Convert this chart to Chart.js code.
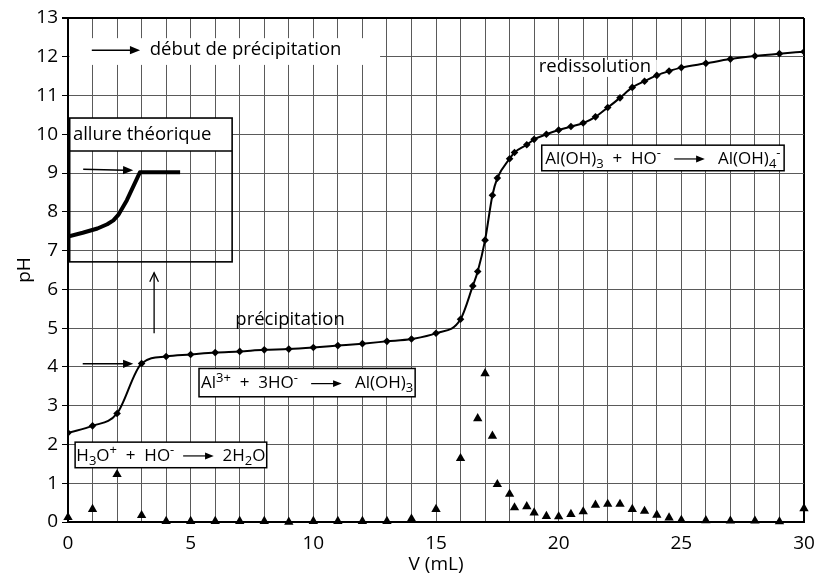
<!DOCTYPE html>
<html>
<head>
<meta charset="utf-8">
<script src="https://cdn.jsdelivr.net/npm/chart.js@4.4.1/dist/chart.umd.min.js"></script>
<style>
  body { margin: 0; background: #fff; }
  canvas { display: block; }
</style>
</head>
<body>
<canvas id="titration" width="818" height="574"></canvas>
<script>
// volume added (mL) and measured pH
const volumePH = [0, 1, 2, 3, 4, 5, 6, 7, 8, 9, 10, 11, 12, 13, 14, 15, 16, 16.5, 16.7, 17, 17.3, 17.5, 18, 18.2, 18.7, 19,
  19.5, 20, 20.5, 21, 21.5, 22, 22.5, 23, 23.5, 24, 24.5, 25, 26, 27, 28, 29, 30];
const pH = [2.30, 2.48, 2.80, 4.09, 4.27, 4.32, 4.37, 4.40, 4.44, 4.46, 4.50, 4.55, 4.60, 4.66, 4.72, 4.87, 5.23, 6.09, 6.46, 7.27, 8.43, 8.87, 9.37, 9.53, 9.73, 9.87,
  10.00, 10.11, 10.20, 10.29, 10.45, 10.69, 10.94, 11.21, 11.37, 11.52, 11.63, 11.72, 11.83, 11.94, 12.02, 12.08, 12.13];

// derivative dpH/dV (triangles)
const volumeDer = [0, 1, 2, 3, 4, 5, 6, 7, 8, 9, 10, 11, 12, 13, 14, 15, 16, 16.7, 17, 17.3, 17.5, 18, 18.2, 18.7, 19,
  19.5, 20, 20.5, 21, 21.5, 22, 22.5, 23, 23.5, 24, 24.5, 25, 26, 27, 28, 29, 30];
const dpH = [0.12, 0.33, 1.23, 0.17, 0.02, 0.02, 0.02, 0.02, 0.02, 0.0, 0.02, 0.02, 0.02, 0.02, 0.08, 0.33, 1.64, 2.67, 3.83, 2.22, 0.97, 0.72, 0.37, 0.40, 0.24,
  0.15, 0.14, 0.20, 0.27, 0.44, 0.46, 0.46, 0.33, 0.28, 0.18, 0.11, 0.05, 0.04, 0.03, 0.03, 0.01, 0.35];

// sketch of the theoretical shape (inset)
const insetV = [0, 0.6, 1.2, 1.6, 1.85, 2.05, 2.4, 2.93, 4.57];
const insetPH = [7.36, 7.46, 7.57, 7.68, 7.78, 7.92, 8.3, 9.02, 9.02];

const xTicks = [0, 5, 10, 15, 20, 25, 30];

const FONT = '"Open Sans", "DejaVu Sans", sans-serif';

function arrow(ctx, x0, y0, x1, y1, head, open) {
  const a = Math.atan2(y1 - y0, x1 - x0);
  ctx.beginPath();
  ctx.moveTo(x0, y0);
  if (open) ctx.lineTo(x1, y1);
  else ctx.lineTo(x1 - head * 0.8 * Math.cos(a), y1 - head * 0.8 * Math.sin(a));
  ctx.stroke();
  ctx.beginPath();
  const w = open ? 0.45 : 0.38;
  if (open) {
    ctx.moveTo(x1 - head * Math.cos(a - w), y1 - head * Math.sin(a - w));
    ctx.lineTo(x1, y1);
    ctx.lineTo(x1 - head * Math.cos(a + w), y1 - head * Math.sin(a + w));
    ctx.stroke();
  } else {
    ctx.moveTo(x1, y1);
    ctx.lineTo(x1 - head * Math.cos(a - w), y1 - head * Math.sin(a - w));
    ctx.lineTo(x1 - head * Math.cos(a + w), y1 - head * Math.sin(a + w));
    ctx.closePath();
    ctx.fill();
  }
}

// draws text with _{sub}, ^{sup} and -> (arrow); returns its width
function richText(ctx, text, x, y, size, draw) {
  const parts = text.split(/(_\{[^}]*\}|\^\{[^}]*\}|->)/).filter(p => p);
  let cx = x;
  ctx.textBaseline = 'middle';
  ctx.textAlign = 'left';
  for (const p of parts) {
    if (p === '->') {
      const w = size * 1.8;
      if (draw) {
        ctx.lineWidth = 1.2;
        arrow(ctx, cx, y, cx + w, y, size * 0.55, false);
      }
      cx += w;
    } else if (p[0] === '_' || p[0] === '^') {
      const t = p.slice(2, -1);
      ctx.font = `${Math.round(size * 0.75)}px ${FONT}`;
      if (draw) ctx.fillText(t, cx, y + (p[0] === '_' ? size * 0.3 : -size * 0.32));
      cx += ctx.measureText(t).width;
    } else {
      ctx.font = `${size}px ${FONT}`;
      if (draw) ctx.fillText(p, cx, y);
      cx += ctx.measureText(p).width;
    }
  }
  return cx - x;
}

function formulaBox(ctx, X, Y, x0, y0, x1, y1, text) {
  const l = X(x0), t = Y(y0), r = X(x1), b = Y(y1);
  ctx.fillStyle = '#fff';
  ctx.fillRect(l, t, r - l, b - t);
  ctx.strokeStyle = '#000';
  ctx.lineWidth = 1.5;
  ctx.strokeRect(l, t, r - l, b - t);
  ctx.fillStyle = '#000';
  const w = richText(ctx, text, 0, 0, 17, false);
  richText(ctx, text, (l + r) / 2 - w / 2, (t + b) / 2 + 1, 17, true);
}

const notesPlugin = {
  id: 'notes',
  beforeDatasetsDraw(chart) {
    const ctx = chart.ctx;
    const X = v => chart.scales.x.getPixelForValue(v);
    const Y = v => chart.scales.y.getPixelForValue(v);
    ctx.save();

    // white patches behind the free labels
    ctx.fillStyle = '#fff';
    ctx.fillRect(X(0) + 1.5, Y(12.48), X(12.72) - X(0) - 1.5, Y(11.79) - Y(12.48));
    ctx.fillRect(X(19.16), Y(11.92), X(24.0) - X(19.16), Y(11.48) - Y(11.92));

    ctx.fillStyle = '#000';
    ctx.strokeStyle = '#000';
    ctx.lineWidth = 1.5;
    arrow(ctx, X(0.97), Y(12.17), X(2.94), Y(12.17), 11, false);
    ctx.font = `18.5px ${FONT}`;
    ctx.textBaseline = 'middle';
    ctx.textAlign = 'left';
    ctx.fillText('début de précipitation', X(3.33), Y(12.17));

    ctx.textAlign = 'center';
    ctx.fillText('redissolution', X(21.48), Y(11.74));
    ctx.fillText('précipitation', X(9.05), Y(5.21));

    // inset "allure théorique"
    const il = X(0), ir = X(6.69), it = Y(10.42), ib = Y(6.71), is = Y(9.57);
    ctx.fillStyle = '#fff';
    ctx.fillRect(il, it, ir - il, is - it);
    ctx.strokeStyle = '#000';
    ctx.lineWidth = 1.6;
    ctx.strokeRect(il, it, ir - il, ib - it);
    ctx.beginPath();
    ctx.moveTo(il, is);
    ctx.lineTo(ir, is);
    ctx.stroke();
    ctx.lineWidth = 3;
    ctx.beginPath();
    ctx.moveTo(il + 1, it);
    ctx.lineTo(il + 1, ib);
    ctx.stroke();
    ctx.fillStyle = '#000';
    ctx.font = `18.5px ${FONT}`;
    ctx.textAlign = 'left';
    ctx.fillText('allure théorique', X(0.2), Y(9.98));
    ctx.lineWidth = 1.5;
    arrow(ctx, X(0.62), Y(9.1), X(2.66), Y(9.07), 11, false);

    // arrows near the first jump
    arrow(ctx, X(0.6), Y(4.08), X(2.66), Y(4.08), 11, false);
    ctx.lineWidth = 1.3;
    arrow(ctx, X(3.51), Y(4.87), X(3.51), Y(6.43), 10, true);

    // reaction boxes
    formulaBox(ctx, X, Y, 0.29, 2.06, 8.1, 1.40, 'H_{3}O^{+}  +  HO^{-}  ->  2H_{2}O');
    formulaBox(ctx, X, Y, 5.34, 3.96, 14.15, 3.23, 'Al^{3+}  +  3HO^{-}   ->   Al(OH)_{3}');
    formulaBox(ctx, X, Y, 19.31, 9.72, 29.19, 9.06, 'Al(OH)_{3}  +  HO^{-}   ->   Al(OH)_{4}^{-}');

    ctx.restore();
  }
};

const gridColor = (edge) => ctx => ctx.tick && ctx.tick.value === edge ? '#000' : '#5a5a5a';
const gridWidth = (edge) => ctx => ctx.tick && ctx.tick.value === edge ? 2 : 1;

new Chart(document.getElementById('titration').getContext('2d'), {
  type: 'scatter',
  data: {
    datasets: [
      {
        label: 'pH',
        data: volumePH.map((v, i) => ({ x: v, y: pH[i] })),
        showLine: true,
        borderColor: '#000',
        backgroundColor: '#000',
        borderWidth: 2,
        cubicInterpolationMode: 'monotone',
        pointStyle: 'rectRot',
        pointRadius: 3.8,
        pointBorderWidth: 0
      },
      {
        label: 'dpH/dV',
        data: volumeDer.map((v, i) => ({ x: v, y: dpH[i] })),
        showLine: false,
        borderColor: '#000',
        backgroundColor: '#000',
        pointStyle: 'triangle',
        pointRadius: 5.4,
        pointBorderWidth: 0,
        clip: false
      },
      {
        label: 'allure théorique',
        data: insetV.map((v, i) => ({ x: v, y: insetPH[i] })),
        showLine: true,
        borderColor: '#000',
        borderWidth: 4,
        borderJoinStyle: 'round',
        pointRadius: 0,
        tension: 0
      }
    ]
  },
  options: {
    responsive: false,
    animation: false,
    devicePixelRatio: 1,
    layout: { padding: { top: 18, right: 14, left: 0, bottom: 0 } },
    plugins: {
      legend: { display: false },
      tooltip: { enabled: false }
    },
    scales: {
      x: {
        type: 'linear',
        min: 0,
        max: 30,
        afterFit: s => { s.height = 52; s.paddingRight = 0; s.paddingLeft = 0; },
        ticks: {
          stepSize: 1,
          autoSkip: false,
          maxRotation: 0,
          padding: 10,
          color: '#000',
          font: { family: FONT, size: 19 },
          callback: v => xTicks.includes(v) ? String(v) : ''
        },
        grid: { color: gridColor(30), lineWidth: gridWidth(30), drawTicks: false },
        border: { color: '#000', width: 2 },
        title: {
          display: true,
          text: 'V (mL)',
          color: '#000',
          font: { family: FONT, size: 19, lineHeight: 1 },
          padding: { top: 0, bottom: 0 }
        }
      },
      y: {
        min: 0,
        max: 13,
        afterFit: s => { s.width = 68; s.paddingTop = 0; s.paddingBottom = 0; },
        ticks: {
          stepSize: 1,
          padding: 4,
          color: '#000',
          font: { family: FONT, size: 19 }
        },
        grid: { color: gridColor(13), lineWidth: gridWidth(13), tickLength: 6, tickColor: '#000' },
        border: { color: '#000', width: 2 },
        title: {
          display: true,
          text: 'pH',
          color: '#000',
          font: { family: FONT, size: 19 },
          padding: { top: 13, bottom: 0 }
        }
      }
    }
  },
  plugins: [notesPlugin]
});
</script>
</body>
</html>
